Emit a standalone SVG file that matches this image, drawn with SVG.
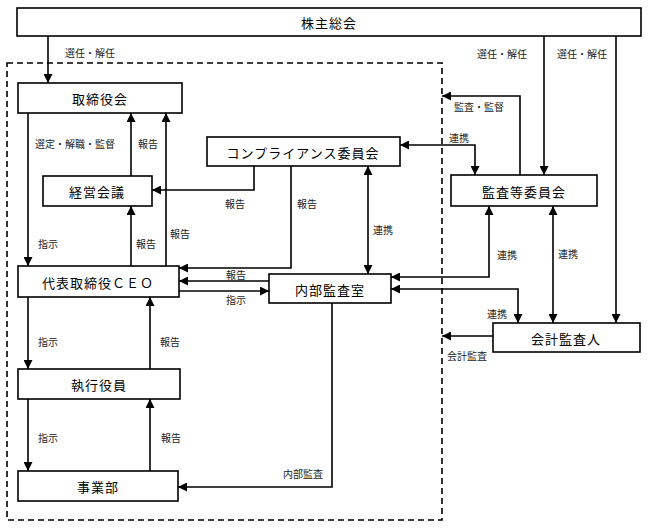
<svg xmlns="http://www.w3.org/2000/svg" width="648" height="528" viewBox="0 0 648 528">
<style>
.box{fill:#fff;stroke:#000;stroke-width:1.6}
.nt{font-family:"Noto Sans CJK JP","Noto Sans",sans-serif;font-size:13px;text-anchor:middle;dominant-baseline:central;fill:#000;letter-spacing:1px}
.lb{font-family:"Noto Sans CJK JP","Noto Sans",sans-serif;font-size:10px;text-anchor:middle;dominant-baseline:central;fill:#222}
.c{fill:none;stroke:#000;stroke-width:1.6}
.a{marker-end:url(#ah)}
.b{marker-end:url(#ah);marker-start:url(#ah)}
</style>
<defs>
<marker id="ah" markerUnits="userSpaceOnUse" markerWidth="9" markerHeight="9" refX="8" refY="4" orient="auto-start-reverse" viewBox="0 0 8 8">
<path d="M0,0 L8,4 L0,8 z" fill="#000"/>
</marker>
</defs>
<rect width="648" height="528" fill="#fff"/>
<rect id="boundary" x="7" y="63" width="435" height="457" fill="none" stroke="#000" stroke-width="1.6" stroke-dasharray="6,4"/>
<g id="connectors">
<path class="c a" d="M48,36 V83"/>
<path class="c a" d="M544,36 V175"/>
<path class="c a" d="M616,36 V323"/>
<path class="c a" d="M520,175 V96 H442"/>
<path class="c b" d="M400,145 H475 V175"/>
<path class="c a" d="M28,113 V266"/>
<path class="c a" d="M131,176 V113"/>
<path class="c a" d="M166,266 V113"/>
<path class="c a" d="M131,266 V206"/>
<path class="c a" d="M254,166 V190 H152"/>
<path class="c a" d="M291,166 V268 H179"/>
<path class="c a" d="M269,281 H179"/>
<path class="c a" d="M179,291 H269"/>
<path class="c b" d="M368,166 V274"/>
<path class="c b" d="M489,206 V277 H391"/>
<path class="c b" d="M391,289 H518 V323"/>
<path class="c b" d="M553,206 V323"/>
<path class="c a" d="M493,336 H442"/>
<path class="c a" d="M28,297 V369"/>
<path class="c a" d="M150,369 V297"/>
<path class="c a" d="M28,399 V471"/>
<path class="c a" d="M150,471 V399"/>
<path class="c a" d="M332,303 V487 H178"/>
</g>
<g id="labels">
<text class="lb" x="90" y="52">選任・解任</text>
<text class="lb" x="502" y="53">選任・解任</text>
<text class="lb" x="582" y="53">選任・解任</text>
<text class="lb" x="479" y="106">監査・監督</text>
<text class="lb" x="459" y="137">連携</text>
<text class="lb" x="75" y="143">選定・解職・監督</text>
<text class="lb" x="148" y="143">報告</text>
<text class="lb" x="235" y="203">報告</text>
<text class="lb" x="307" y="203">報告</text>
<text class="lb" x="383" y="229">連携</text>
<text class="lb" x="180" y="233">報告</text>
<text class="lb" x="48" y="243">指示</text>
<text class="lb" x="146" y="243">報告</text>
<text class="lb" x="507" y="254">連携</text>
<text class="lb" x="568" y="253">連携</text>
<text class="lb" x="236" y="274">報告</text>
<text class="lb" x="236" y="299">指示</text>
<text class="lb" x="497" y="313">連携</text>
<text class="lb" x="467" y="355">会計監査</text>
<text class="lb" x="48" y="341">指示</text>
<text class="lb" x="170" y="341">報告</text>
<text class="lb" x="48" y="437">指示</text>
<text class="lb" x="171" y="437">報告</text>
<text class="lb" x="303" y="473">内部監査</text>
</g>
<g id="kabunushi"><rect class="box" x="17" y="8" width="624" height="28"/><text class="nt" x="329" y="22">株主総会</text></g>
<g id="torishimariyakukai"><rect class="box" x="18" y="83" width="164" height="30"/><text class="nt" x="100" y="98">取締役会</text></g>
<g id="compliance"><rect class="box" x="207" y="137" width="193" height="29"/><text class="nt" x="303" y="152">コンプライアンス委員会</text></g>
<g id="keiei"><rect class="box" x="43" y="176" width="109" height="30"/><text class="nt" x="97" y="191">経営会議</text></g>
<g id="kansatou"><rect class="box" x="451" y="175" width="146" height="31"/><text class="nt" x="524" y="191">監査等委員会</text></g>
<g id="ceo"><rect class="box" x="18" y="266" width="161" height="31"/><text class="nt" x="98" y="282">代表取締役ＣＥＯ</text></g>
<g id="naibu"><rect class="box" x="269" y="274" width="122" height="29"/><text class="nt" x="330" y="289">内部監査室</text></g>
<g id="kaikei"><rect class="box" x="493" y="323" width="147" height="29"/><text class="nt" x="566" y="338">会計監査人</text></g>
<g id="shikko"><rect class="box" x="18" y="369" width="162" height="30"/><text class="nt" x="99" y="384">執行役員</text></g>
<g id="jigyo"><rect class="box" x="18" y="471" width="160" height="30"/><text class="nt" x="98" y="486">事業部</text></g>
</svg>
